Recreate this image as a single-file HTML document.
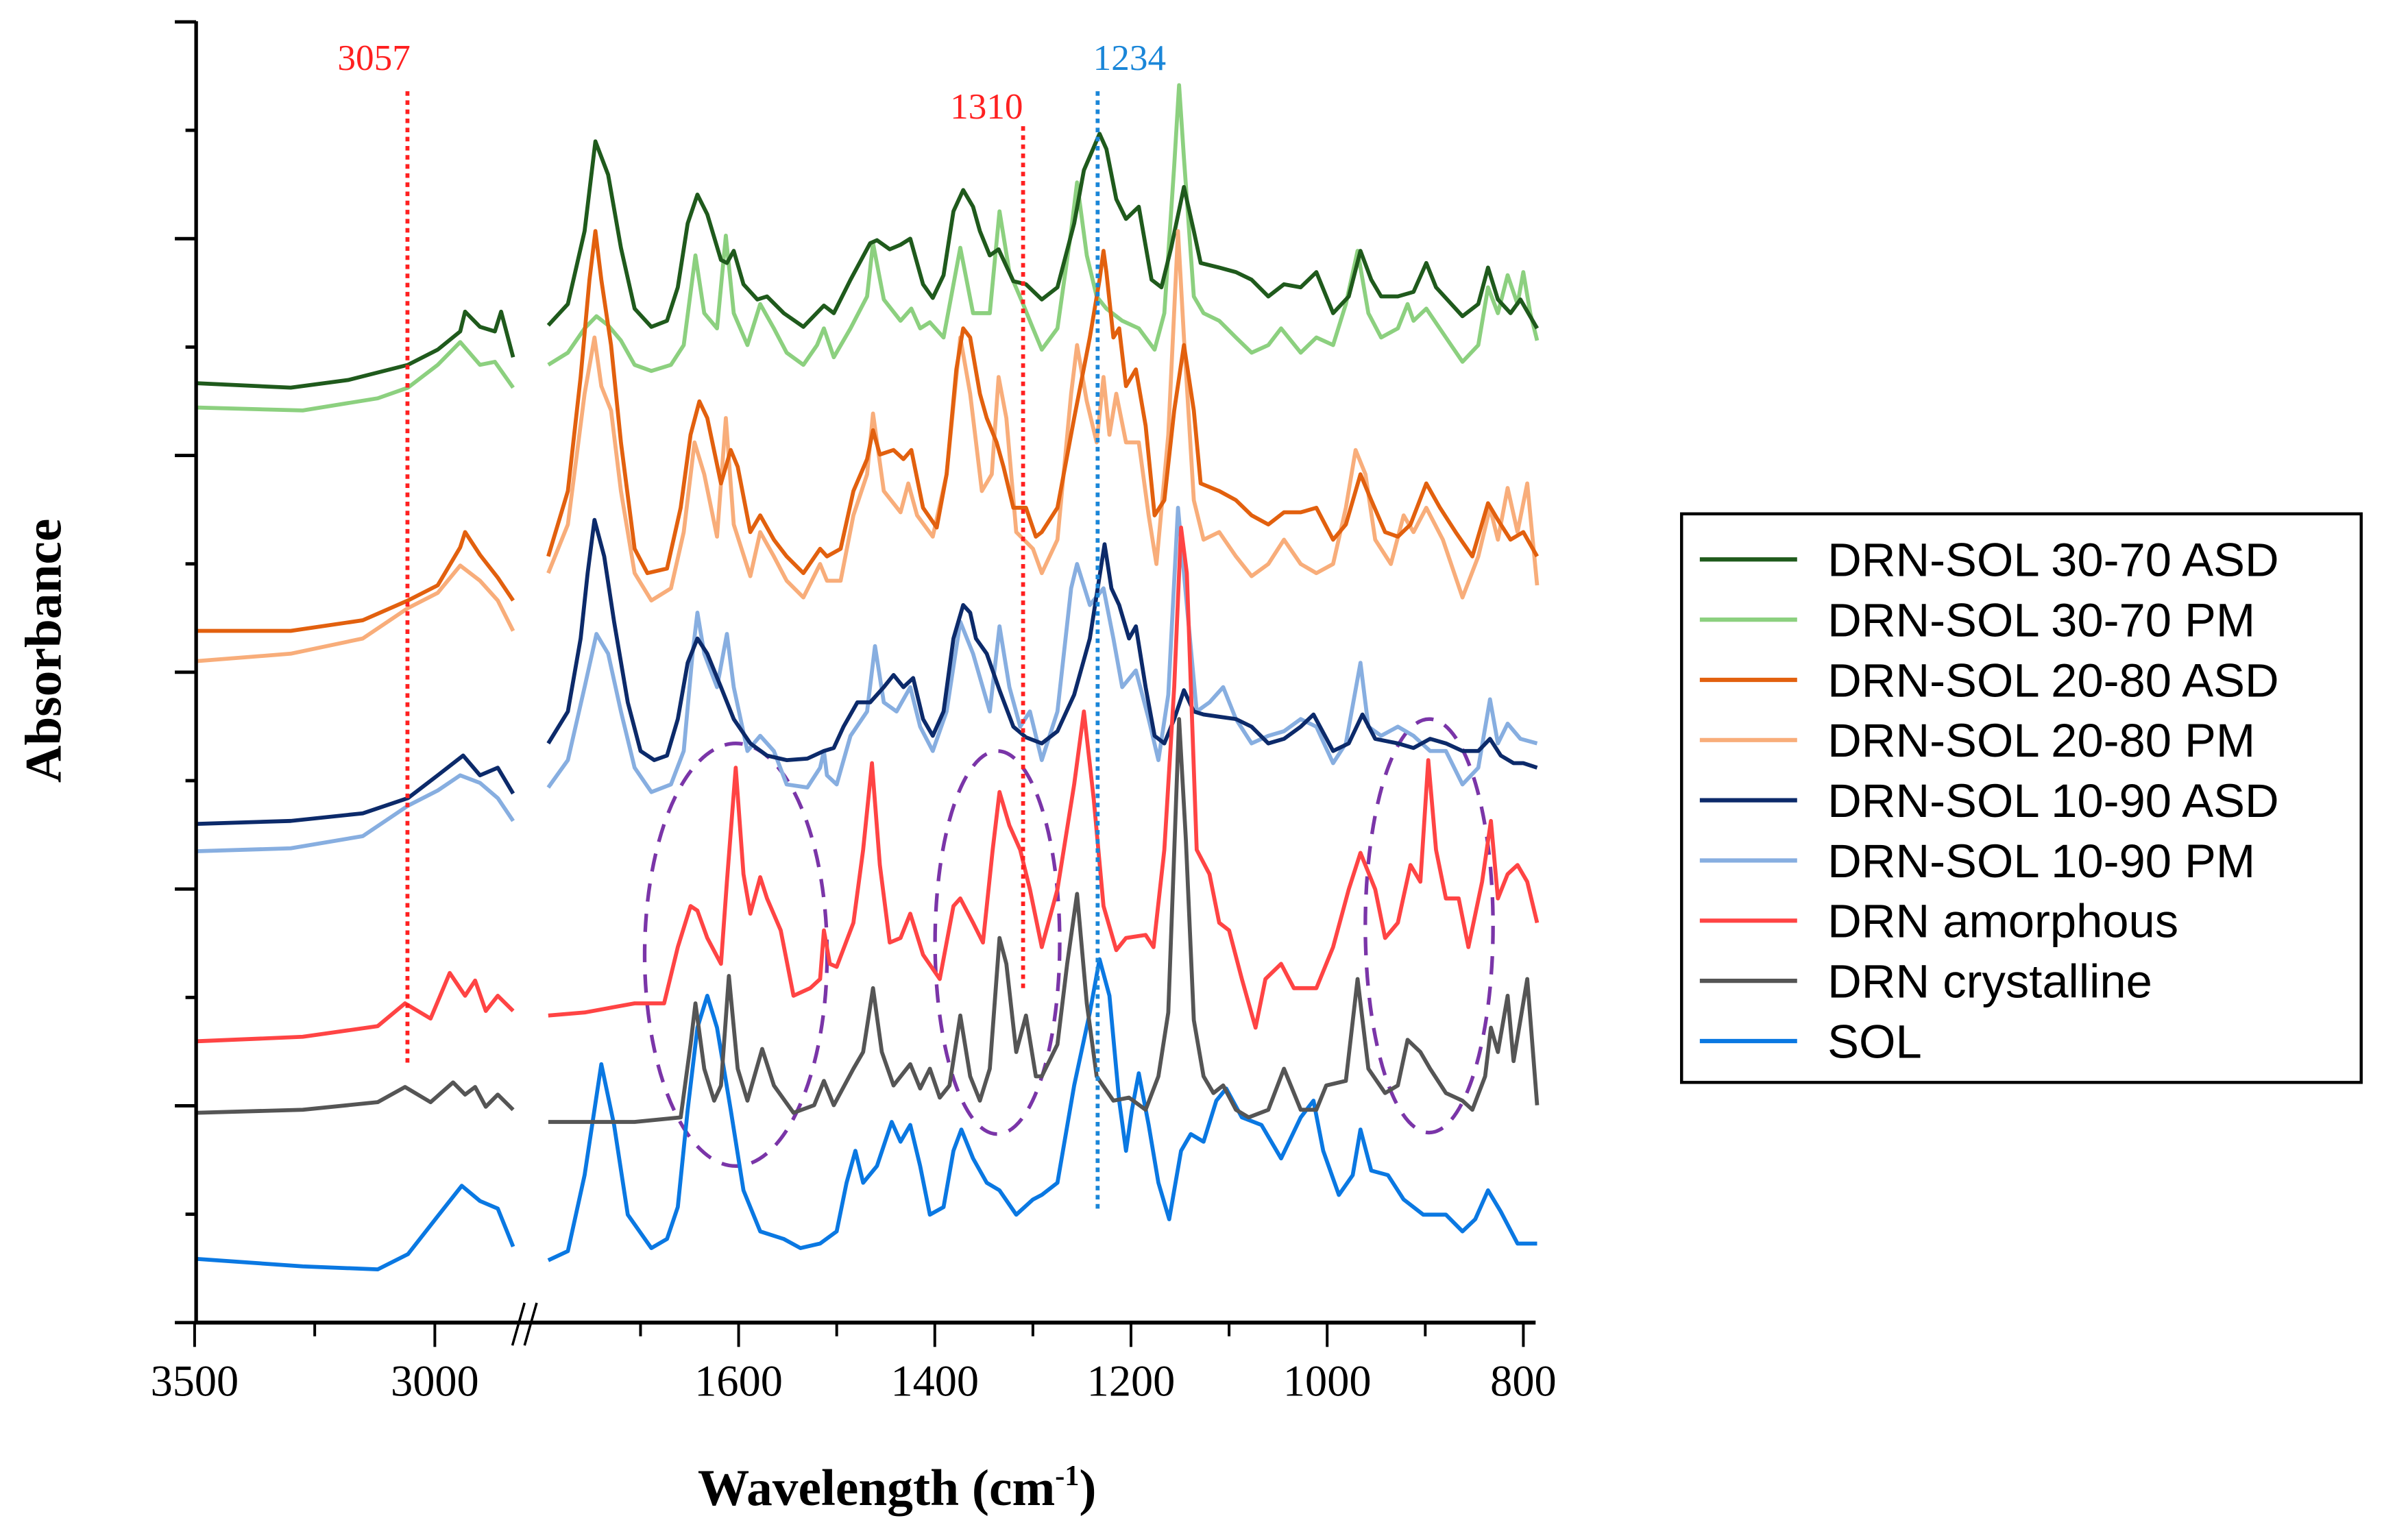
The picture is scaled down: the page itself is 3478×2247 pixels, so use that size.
<!DOCTYPE html>
<html><head><meta charset="utf-8"><style>
html,body{margin:0;padding:0;background:#fff;}
svg{display:block;}
</style></head><body>
<svg id="chart" xmlns="http://www.w3.org/2000/svg" width="3478" height="2247" viewBox="0 0 1568 1013" preserveAspectRatio="none">
<rect x="0" y="0" width="1568" height="1013" fill="#fff"/>
<g id="plot"></g>
</svg>
<script>
// ---- data ----
const xTicksLeft = [3500, 3000];
const xMinorLeft = [3250];
const xTicksRight = [1600, 1400, 1200, 1000, 800];
const xMinorRight = [1700, 1500, 1300, 1100, 900];
const markerValues = [3057, 1310, 1234];
const markerLabels = ["3057", "1310", "1234"];
const seriesNames = ["DRN-SOL 30-70 ASD","DRN-SOL 30-70 PM","DRN-SOL 20-80 ASD","DRN-SOL 20-80 PM","DRN-SOL 10-90 ASD","DRN-SOL 10-90 PM","DRN amorphous","DRN crystalline","SOL"];
const seriesColors = ["#1f5a1c","#8cd07f","#e2600e","#f8ad7a","#0c2a6a","#87aee0","#ff4444","#555555","#0a78e2"];

const asd3070L = [[3500,618],[3300,615],[3181,620],[3056,630],[2994,640],[2947,652],[2937,665],[2906,655],[2875,652],[2862,665],[2837,635]];
const asd3070R = [[1794,656],[1774,670],[1757,718],[1746,777],[1733,755],[1720,707],[1706,667],[1689,655],[1673,659],[1662,681],[1652,723],[1642,742],[1632,729],[1618,699],[1612,697],[1605,705],[1595,683],[1581,673],[1571,675],[1554,664],[1534,655],[1513,669],[1503,664],[1486,686],[1466,710],[1459,712],[1446,706],[1435,709],[1425,713],[1412,683],[1402,674],[1391,689],[1381,731],[1371,745],[1361,734],[1354,718],[1344,702],[1335,706],[1320,685],[1307,683],[1291,673],[1275,681],[1258,723],[1248,758],[1232,782],[1225,772],[1215,739],[1205,726],[1192,734],[1179,686],[1169,681],[1159,707],[1146,747],[1136,718],[1129,697],[1110,694],[1093,691],[1077,686],[1060,675],[1044,683],[1027,681],[1011,691],[994,664],[978,675],[966,705],[955,686],[945,675],[928,675],[912,678],[899,697],[889,681],[862,662],[846,670],[836,694],[826,673],[813,664],[803,673],[786,654]];

const pm3070L = [[3500,602],[3275,600],[3119,608],[3056,615],[2994,630],[2947,645],[2906,630],[2875,632],[2837,615]];
const pm3070R = [[1794,630],[1774,638],[1757,654],[1745,662],[1733,656],[1720,646],[1706,630],[1689,626],[1669,630],[1656,643],[1644,702],[1635,664],[1622,654],[1613,715],[1605,664],[1591,643],[1578,670],[1564,654],[1551,638],[1534,630],[1520,643],[1513,654],[1503,635],[1486,654],[1469,675],[1463,710],[1452,673],[1435,659],[1424,667],[1415,654],[1405,658],[1391,648],[1374,707],[1361,664],[1344,664],[1334,731],[1324,691],[1310,670],[1300,654],[1291,640],[1275,654],[1261,718],[1255,750],[1245,702],[1235,675],[1225,667],[1209,659],[1192,654],[1176,640],[1166,664],[1156,761],[1151,814],[1146,766],[1136,675],[1126,664],[1110,659],[1093,648],[1077,638],[1060,643],[1047,654],[1027,638],[1011,648],[994,643],[981,670],[969,705],[958,664],[945,648],[928,654],[918,670],[912,659],[899,667],[879,648],[862,632],[846,643],[836,681],[826,664],[816,689],[806,670],[800,691],[793,664],[786,646]];

const asd2080L = [[3500,455],[3300,455],[3150,462],[3056,475],[2994,485],[2947,510],[2937,520],[2906,505],[2869,490],[2837,475]];
const asd2080R = [[1794,504],[1774,547],[1761,622],[1752,686],[1746,718],[1740,686],[1730,643],[1720,579],[1706,509],[1693,493],[1673,496],[1659,536],[1649,584],[1640,606],[1632,595],[1618,552],[1608,574],[1601,563],[1588,520],[1578,531],[1564,515],[1551,504],[1534,493],[1517,509],[1510,504],[1496,509],[1483,547],[1469,568],[1463,587],[1456,571],[1442,574],[1432,568],[1424,574],[1412,536],[1398,523],[1388,558],[1378,627],[1371,654],[1364,648],[1354,611],[1347,595],[1337,579],[1330,563],[1320,536],[1307,536],[1297,517],[1291,520],[1275,536],[1258,595],[1242,648],[1232,686],[1228,705],[1225,691],[1218,648],[1212,654],[1205,616],[1195,627],[1185,590],[1176,531],[1166,541],[1156,600],[1146,643],[1136,600],[1129,552],[1110,547],[1093,541],[1077,531],[1060,525],[1044,533],[1027,533],[1011,536],[994,515],[981,525],[966,558],[955,541],[941,520],[928,517],[915,525],[899,552],[885,536],[869,520],[852,504],[836,539],[826,528],[813,515],[800,520],[786,504]];

const pm2080L = [[3500,435],[3300,440],[3150,450],[3056,470],[2994,480],[2947,498],[2906,488],[2869,475],[2837,455]];
const pm2080R = [[1794,493],[1774,525],[1757,611],[1747,648],[1740,616],[1730,600],[1720,547],[1706,493],[1689,475],[1669,483],[1656,520],[1645,579],[1635,558],[1622,517],[1613,595],[1605,525],[1588,491],[1578,520],[1564,504],[1551,488],[1534,477],[1517,499],[1510,488],[1496,488],[1483,531],[1469,558],[1463,598],[1452,547],[1435,533],[1427,552],[1418,531],[1402,517],[1388,558],[1374,648],[1364,611],[1352,547],[1342,558],[1335,622],[1327,595],[1317,520],[1300,509],[1291,493],[1275,515],[1261,611],[1255,643],[1245,606],[1235,579],[1228,622],[1222,584],[1215,611],[1205,579],[1192,579],[1182,531],[1174,499],[1162,584],[1152,718],[1146,648],[1136,541],[1126,515],[1110,520],[1093,504],[1077,491],[1060,499],[1044,515],[1027,499],[1011,493],[994,499],[981,536],[971,574],[961,558],[951,515],[935,499],[922,531],[912,520],[899,536],[882,515],[862,477],[846,504],[834,536],[826,515],[816,549],[806,520],[796,552],[786,485]];

const asd1090L = [[3500,328],[3300,330],[3150,335],[3056,345],[2994,360],[2941,373],[2906,360],[2869,365],[2837,348]];
const asd1090R = [[1794,381],[1774,402],[1761,450],[1754,493],[1747,528],[1737,504],[1727,461],[1713,408],[1700,376],[1686,370],[1673,373],[1662,397],[1652,434],[1642,450],[1632,440],[1618,418],[1605,397],[1588,381],[1571,373],[1551,370],[1530,371],[1513,376],[1503,378],[1493,392],[1479,408],[1466,408],[1452,418],[1442,426],[1432,418],[1422,424],[1412,397],[1402,386],[1391,402],[1381,450],[1371,472],[1364,467],[1358,450],[1347,440],[1334,416],[1320,392],[1307,385],[1291,381],[1275,389],[1258,413],[1242,450],[1227,512],[1220,483],[1212,472],[1202,450],[1195,458],[1185,418],[1176,386],[1166,381],[1156,397],[1146,416],[1136,402],[1126,400],[1093,397],[1077,392],[1060,381],[1044,384],[1027,392],[1014,400],[994,376],[978,381],[964,400],[951,384],[928,381],[912,378],[895,384],[879,381],[862,376],[846,376],[834,384],[823,373],[810,368],[800,368],[786,365]];

const pm1090L = [[3500,310],[3300,312],[3150,320],[3056,340],[2994,350],[2947,360],[2906,355],[2869,345],[2837,330]];
const pm1090R = [[1794,352],[1774,370],[1757,418],[1745,453],[1733,440],[1720,402],[1706,365],[1689,349],[1669,354],[1656,376],[1647,440],[1642,467],[1635,440],[1622,418],[1612,453],[1605,418],[1591,376],[1578,386],[1564,376],[1551,354],[1530,352],[1517,365],[1513,376],[1510,360],[1500,354],[1486,386],[1469,402],[1461,445],[1452,408],[1439,402],[1425,418],[1415,392],[1402,376],[1388,402],[1374,461],[1361,440],[1344,402],[1334,458],[1324,418],[1313,392],[1303,402],[1291,370],[1275,402],[1261,483],[1255,499],[1242,472],[1228,483],[1218,450],[1209,418],[1195,429],[1182,397],[1172,370],[1162,413],[1152,536],[1143,472],[1133,402],[1120,408],[1106,418],[1093,397],[1077,381],[1060,386],[1044,389],[1027,397],[1011,392],[994,368],[981,381],[966,434],[958,392],[945,386],[928,392],[912,386],[895,376],[879,376],[862,354],[846,365],[834,410],[826,381],[816,394],[803,384],[786,381]];

const drnAmorL = [[3500,185],[3275,188],[3119,195],[3062,210],[3009,200],[2969,230],[2937,215],[2916,225],[2894,205],[2869,215],[2837,205]];
const drnAmorR = [[1794,202],[1757,204],[1706,210],[1676,210],[1662,247],[1649,274],[1642,271],[1632,253],[1618,236],[1612,290],[1603,365],[1595,295],[1588,269],[1578,293],[1571,279],[1557,258],[1544,215],[1527,220],[1517,226],[1513,258],[1507,236],[1500,234],[1483,263],[1473,311],[1464,368],[1456,301],[1446,250],[1435,253],[1425,269],[1412,242],[1395,226],[1381,274],[1374,279],[1361,263],[1351,250],[1341,311],[1334,349],[1324,327],[1313,311],[1303,285],[1291,247],[1275,285],[1258,354],[1248,402],[1238,344],[1228,274],[1215,245],[1205,253],[1185,255],[1177,247],[1166,311],[1156,418],[1149,523],[1143,493],[1133,311],[1120,295],[1110,263],[1100,258],[1087,226],[1073,194],[1063,226],[1047,236],[1034,220],[1011,220],[994,247],[978,285],[966,309],[951,285],[941,253],[928,263],[915,301],[905,290],[897,370],[889,311],[879,279],[866,279],[856,247],[842,290],[833,330],[826,279],[816,295],[806,301],[796,290],[786,263]];

const drnCrysL = [[3500,138],[3275,140],[3119,145],[3062,155],[3009,145],[2962,158],[2937,150],[2916,155],[2894,142],[2869,150],[2837,140]];
const drnCrysR = [[1794,132],[1740,132],[1706,132],[1659,135],[1649,183],[1644,210],[1635,167],[1625,146],[1618,156],[1610,228],[1601,167],[1591,146],[1576,180],[1564,156],[1544,138],[1523,143],[1513,159],[1503,143],[1483,167],[1473,178],[1463,220],[1454,178],[1442,156],[1425,170],[1415,154],[1405,167],[1395,148],[1385,156],[1374,202],[1364,162],[1354,146],[1344,167],[1334,253],[1327,236],[1317,178],[1307,202],[1297,162],[1291,162],[1275,183],[1265,236],[1255,282],[1245,210],[1235,162],[1218,146],[1202,148],[1185,140],[1172,162],[1162,204],[1151,397],[1144,317],[1136,199],[1126,162],[1116,151],[1106,156],[1093,140],[1080,135],[1060,140],[1044,167],[1027,140],[1011,140],[1001,156],[981,159],[969,226],[958,167],[941,151],[928,156],[918,186],[905,178],[895,167],[879,151],[862,146],[852,140],[839,162],[833,194],[826,178],[816,215],[810,172],[796,226],[786,143]];

const solL = [[3500,42],[3275,37],[3119,35],[3056,45],[2994,70],[2944,90],[2906,80],[2869,75],[2837,50]];
const solR = [[1794,41],[1774,47],[1757,97],[1740,170],[1727,130],[1713,71],[1689,49],[1673,55],[1662,76],[1652,140],[1642,194],[1632,215],[1622,194],[1608,140],[1595,87],[1578,60],[1554,55],[1537,49],[1517,52],[1500,60],[1490,92],[1481,113],[1473,92],[1459,103],[1444,132],[1435,119],[1425,130],[1415,103],[1405,71],[1391,76],[1381,113],[1373,127],[1361,108],[1347,92],[1334,87],[1317,71],[1300,81],[1291,84],[1275,92],[1258,156],[1242,204],[1232,239],[1222,215],[1212,146],[1205,113],[1199,140],[1192,164],[1182,130],[1172,92],[1161,68],[1149,113],[1139,124],[1126,119],[1113,146],[1103,154],[1087,135],[1067,130],[1047,108],[1027,135],[1014,146],[1004,113],[988,84],[974,97],[966,127],[955,100],[938,97],[922,81],[902,71],[879,71],[862,60],[849,68],[836,87],[823,73],[806,52],[786,52]];

const leftSeries = [asd3070L, pm3070L, asd2080L, pm2080L, asd1090L, pm1090L, drnAmorL, drnCrysL, solL];
const rightSeries = [asd3070R, pm3070R, asd2080R, pm2080R, asd1090R, pm1090R, drnAmorR, drnCrysR, solR];
const drawOrder = [1,0,3,2,5,4,8,7,6];

// ---- axes ----
const yBase = 870;
function xL(w){ return 128 + (3500 - w) * 0.316; }
function xR(w){ return 360 + (1795 - w) / 1.55; }
function xAny(w){ return w > 2000 ? xL(w) : xR(w); }
function yS(v){ return yBase - v; }

const NS = "http://www.w3.org/2000/svg";
const plot = document.getElementById('plot');
function mk(tag, attrs, parent){
  const e = document.createElementNS(NS, tag);
  for (const k in attrs) e.setAttribute(k, attrs[k]);
  (parent || plot).appendChild(e);
  return e;
}

// ellipses
const ellipses = [[484,628,60,139],[656,620,41,126],[940,609,42,136]];
ellipses.forEach((el,i)=>{
  const e = mk('ellipse',{cx:el[0],cy:el[1],rx:el[2],ry:el[3],fill:'none',stroke:'#7a35a8','stroke-width':2.4,'stroke-dasharray':'12 8'});
  
  
});

// series
drawOrder.forEach(i=>{
  const g = mk('g',{});
  
  
  [[leftSeries[i], xL],[rightSeries[i], xR]].forEach(([pts, fx])=>{
    const d = pts.map((p,j)=>(j?'L':'M') + fx(p[0]).toFixed(1) + ' ' + yS(p[1]).toFixed(1)).join(' ');
    const p = mk('path',{d:d,fill:'none',stroke:seriesColors[i],'stroke-width':2.6,'stroke-linejoin':'round'}, g);
    
    
  });
});

// markers
const markerColors = ['#ff2020','#ff2020','#1a86d8'];
const markerTop = [60, 83, 60];
const markerBottom = [700, 652, 798];
const labelY = [46, 78, 46];
const labelDx = [-22, -24, 21];
markerValues.forEach((m,i)=>{
  const x = xAny(m);
  const l = mk('line',{x1:x,x2:x,y1:markerTop[i],y2:markerBottom[i],stroke:markerColors[i],'stroke-width':2.6,'stroke-dasharray':'3 3'});
  
  
  const t = mk('text',{x:x+labelDx[i],y:labelY[i],'text-anchor':'middle','font-family':'"Liberation Serif", serif','font-size':24,fill:markerColors[i]});
  t.textContent = markerLabels[i];
  
  
});

// y axis
const ya = mk('line',{x1:129,x2:129,y1:14,y2:870,stroke:'#000','stroke-width':2.4});


for (let k=0;k<=12;k++){
  const y = 870 - k*71.3;
  const len = k%2===0 ? 14 : 7;
  const t = mk('line',{x1:129-len,x2:129,y1:y,y2:y,stroke:'#000','stroke-width':2.2});
  
  
}
// x axis
const xa = mk('line',{x1:128,x2:1010,y1:870,y2:870,stroke:'#000','stroke-width':2.6});


const brk1 = mk('line',{x1:337,y1:885,x2:345,y2:857,stroke:'#000','stroke-width':1.6});


const brk2 = mk('line',{x1:345,y1:885,x2:353,y2:857,stroke:'#000','stroke-width':1.6});



function tick(x,len){
  const t = mk('line',{x1:x,x2:x,y1:870,y2:870+len,stroke:'#000','stroke-width':1.8});
  
  
}
function tlabel(x,v){
  const t = mk('text',{x:x,y:918,'text-anchor':'middle','font-family':'"Liberation Serif", serif','font-size':29,fill:'#000'});
  t.textContent = v;
  
  
}
xTicksLeft.forEach(v=>{ tick(xL(v),16); tlabel(xL(v),v); });
xMinorLeft.forEach(v=>tick(xL(v),9));
xTicksRight.forEach(v=>{ tick(xR(v),16); tlabel(xR(v),v); });
xMinorRight.forEach(v=>tick(xR(v),9));

// axis titles
const xt = mk('text',{x:590,y:990,'text-anchor':'middle','font-family':'"Liberation Serif", serif','font-size':34,'font-weight':'bold',fill:'#000'});
xt.innerHTML = 'Wavelength (cm<tspan dy="-13" font-size="19">-1</tspan><tspan dy="13">)</tspan>';


const yt = mk('text',{x:0,y:0,'text-anchor':'middle','font-family':'"Liberation Serif", serif','font-size':34,'font-weight':'bold',fill:'#000',transform:'translate(40,428) rotate(-90)'});
yt.textContent = 'Absorbance';



// legend
const lg = mk('g',{});


const lb = mk('rect',{x:1106,y:338,width:447,height:374,fill:'#fff',stroke:'#000','stroke-width':2},lg);


seriesNames.forEach((n,i)=>{
  const y = 368 + i*39.6;
  const e = mk('g',{},lg);
  
  
  mk('line',{x1:1118,x2:1182,y1:y,y2:y,stroke:seriesColors[i],'stroke-width':2.8},e);
  const t = mk('text',{x:1202,y:y+11,'font-family':'"Liberation Sans", sans-serif','font-size':31,fill:'#000'},e);
  t.textContent = n;
});
</script>
</body></html>
